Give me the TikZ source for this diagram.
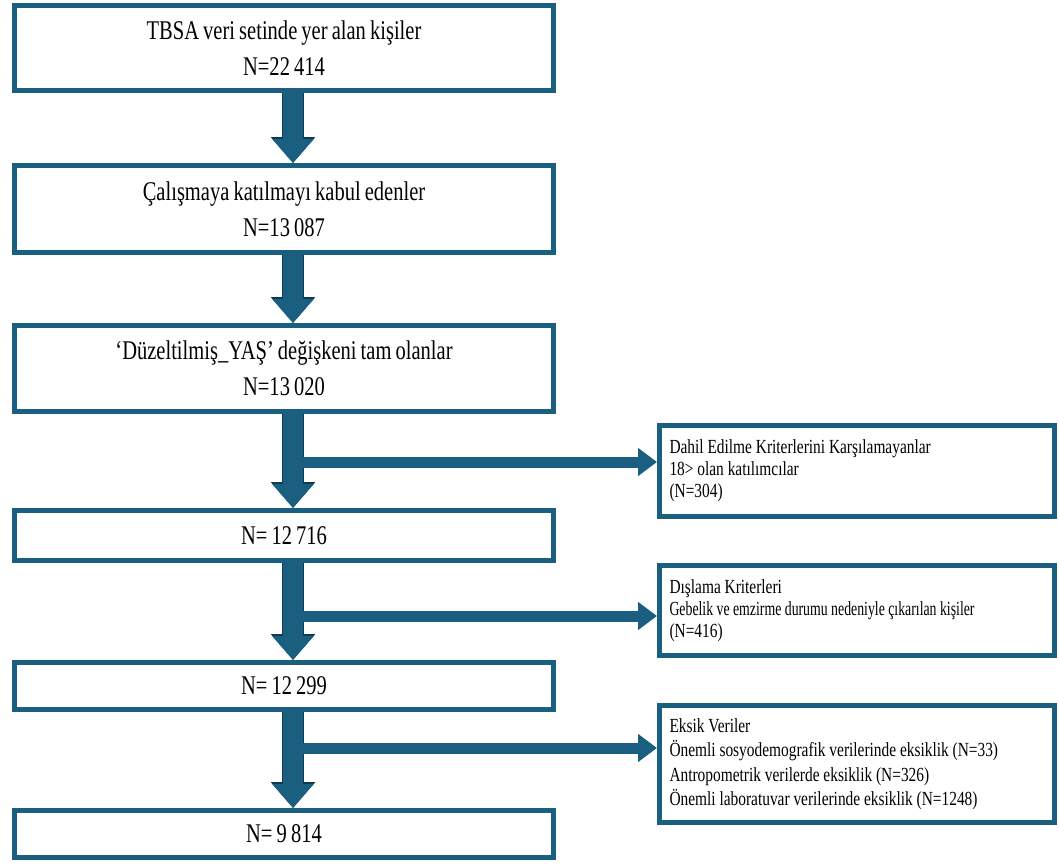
\documentclass[tikz,border=0pt]{standalone}
\usepackage{fontspec}
\setmainfont{Liberation Serif}[FakeStretch=0.76, WordSpace=0.8]
\newfontfamily\sidefont{Liberation Serif}[FakeStretch=0.77]
\newfontfamily\sidenarrow{Liberation Serif}[FakeStretch=0.69]
\usetikzlibrary{arrows.meta}
\definecolor{boxblue}{HTML}{1B5F80}
\definecolor{arrowedge}{HTML}{0F3B52}

\begin{document}
\begin{tikzpicture}[x=1pt, y=-1pt,
    mainbox/.style={draw=boxblue, line width=5pt, fill=white, minimum width=539pt,
        align=center, font=\fontsize{27}{36}\selectfont},
    sidebox/.style={draw=boxblue, line width=5pt, fill=white, inner xsep=10pt,
        text width=375pt, align=flush left},
    downarrow/.style={boxblue, line width=20pt, -{Triangle[width=40pt,length=24pt]},
        preaction={draw=arrowedge, line width=22pt, -{Triangle[width=43pt,length=26pt]}}},
    sidearrow/.style={boxblue, line width=11pt, -{Triangle[width=27pt,length=19pt]}}
]
    \useasboundingbox (0,0) rectangle (1059,864);

    \node[mainbox, minimum height=85pt] (tbsa) at (284,48)
        {TBSA veri setinde yer alan kişiler\\N=22 414};
    \node[mainbox, minimum height=87pt] (kabul) at (284,209)
        {Çalışmaya katılmayı kabul edenler\\N=13 087};
    \node[mainbox, minimum height=86pt] (yas) at (284,368.5)
        {‘Düzeltilmiş\_YAŞ’ değişkeni tam olanlar\\N=13 020};
    \node[mainbox, minimum height=50pt] (n1) at (284,535.5) {N= 12 716};
    \node[mainbox, minimum height=47pt] (n2) at (284,686) {N= 12 299};
    \node[mainbox, minimum height=47pt] (n3) at (284,834) {N= 9 814};

    \node[sidebox, minimum height=91pt, font=\sidefont\fontsize{20}{22}\selectfont] (dahil) at (857,471)
        {Dahil Edilme Kriterlerini Karşılamayanlar\\18> olan katılımcılar\\(N=304)};
    \node[sidebox, minimum height=90pt, font=\sidefont\fontsize{20}{22}\selectfont] (dislama) at (857,610.5)
        {Dışlama Kriterleri\\{\sidenarrow Gebelik ve emzirme durumu nedeniyle çıkarılan kişiler}\\(N=416)};
    \node[sidebox, minimum height=117pt, font=\sidefont\fontsize{20}{24.5}\selectfont] (eksik) at (857,764)
        {Eksik Veriler\\Önemli sosyodemografik verilerinde eksiklik (N=33)\\
         Antropometrik verilerde eksiklik (N=326)\\
         Önemli laboratuvar verilerinde eksiklik (N=1248)};

    \draw[downarrow] ([xshift=9]tbsa.south) -- ([xshift=9]kabul.north);
    \draw[downarrow] ([xshift=9]kabul.south) -- ([xshift=9]yas.north);
    \draw[downarrow] ([xshift=9]yas.south) -- ([xshift=9]n1.north);
    \draw[downarrow] ([xshift=9]n1.south) -- ([xshift=9]n2.north);
    \draw[downarrow] ([xshift=9]n2.south) -- ([xshift=9]n3.north);

    \coordinate (s1) at (293,462);
    \coordinate (s2) at (293,616);
    \coordinate (s3) at (293,748);
    \draw[sidearrow] (s1) -- (s1 -| dahil.west);
    \draw[sidearrow] (s2) -- (s2 -| dislama.west);
    \draw[sidearrow] (s3) -- (s3 -| eksik.west);
\end{tikzpicture}
\end{document}
